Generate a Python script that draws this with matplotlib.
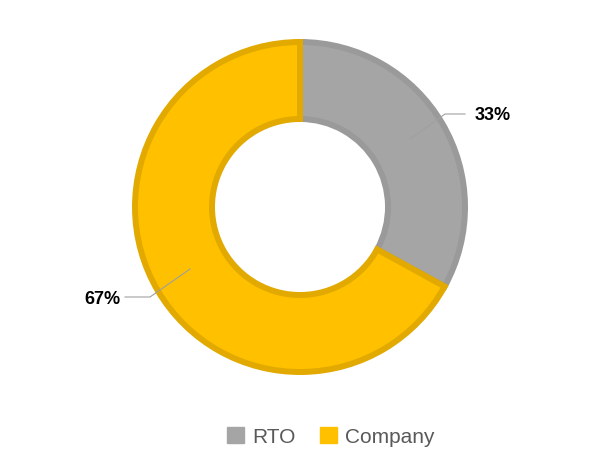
import matplotlib.pyplot as plt

categories = ["RTO", "Company"]
shares = [33, 67]
fills = ["#A5A5A5", "#FFC000"]
edges = ["#9A9A9A", "#E2A900"]

fig = plt.figure(figsize=(6.07, 4.77), dpi=100)
ax = fig.add_axes([0, 0, 1, 1])
ax.set_xlim(0, 607)
ax.set_ylim(0, 477)
ax.set_aspect("equal")
ax.axis("off")

cx, cy, r = 300, 269, 165
wedges, _ = ax.pie(shares, colors=fills, startangle=90, counterclock=False,
                   center=(cx, cy), radius=r, frame=True,
                   wedgeprops=dict(width=r - 88, linewidth=4.3))
for w, ec in zip(wedges, edges):
    w.set_edgecolor(ec)
ax.set_xlim(0, 607)
ax.set_ylim(0, 477)
ax.axis("off")

# leader lines + labels
ax.plot([410, 445, 465], [337, 362, 362], color="#A0A0A0", lw=0.8)
ax.text(475, 361, f"{shares[0]}%", fontsize=13, fontweight="bold", va="center", ha="left",
        family="Liberation Sans")
ax.plot([190, 150, 125], [207, 179, 179], color="#A0A0A0", lw=0.8)
ax.text(120, 178, f"{shares[1]}%", fontsize=13, fontweight="bold", va="center", ha="right",
        family="Liberation Sans")

handles = [plt.Rectangle((0, 0), 1, 1, color=c) for c in fills]
fig.legend(handles, categories, loc="center", bbox_to_anchor=(0.545, 0.082), ncol=2,
           frameon=False, prop=dict(family="Liberation Sans", size=15),
           handlelength=0.8, handleheight=0.8, handletextpad=0.4, columnspacing=1.2,
           labelcolor="#595959")
fig.savefig("out.png", dpi=100)
